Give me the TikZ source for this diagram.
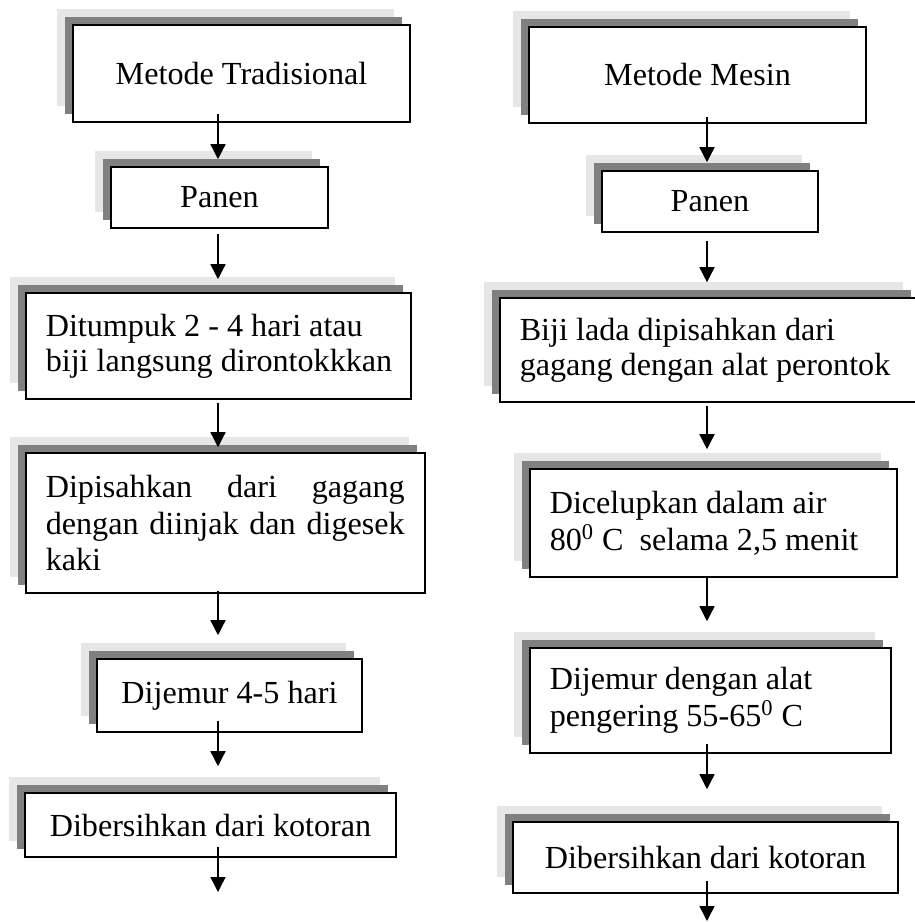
\documentclass[tikz,border=0pt]{standalone}
\usepackage{fontspec}
\setmainfont{Liberation Serif}
\usepackage{tikz}
\usetikzlibrary{arrows.meta,calc,shadows}
\definecolor{figline}{RGB}{0,0,0}
\definecolor{shadedark}{RGB}{128,128,128}
\definecolor{shadelight}{RGB}{230,230,230}
\hyphenpenalty=10000
\tikzset{
  shd/.style     ={general shadow={shadow xshift=-0.32cm, shadow yshift=0.32cm, fill=shadelight},
                   general shadow={shadow xshift=-0.16cm, shadow yshift=0.16cm, fill=shadedark}},
  flowbox/.style ={shd, draw=figline, fill=white, line width=0.9pt, inner sep=0pt,
                   font=\fontsize{18.3}{20}\selectfont},
  flowtxt/.style ={flowbox, anchor=west, inner xsep=0.4cm, align=flush left},
  ptr/.style     ={draw=figline, line width=0.8pt, -{Triangle[length=0.3cm,width=0.3cm]}},
}

\begin{document}
\begin{tikzpicture}[x=0.02cm, y=-0.02cm]
  \useasboundingbox (0,0) rectangle (915,922);
  \coordinate (lx) at (218,0);
  \coordinate (rx) at (707,0);
  \coordinate (lend) at (218,892);
  \coordinate (rend) at (707,921);
  % left column
  \node[flowbox, minimum width=6.74cm, minimum height=1.94cm] (trad) at (241.5,73.5) {Metode Tradisional};
  \node[flowbox, minimum width=4.34cm, minimum height=1.22cm] (panenL) at (219.5,197.5) {Panen};
  \node[flowtxt, text width=6.9cm, minimum height=2.12cm] (tumpuk) at (25,346)
    {\mbox{Ditumpuk 2 - 4 hari atau}\\\mbox{biji langsung dirontokkkan}};
  \node[flowtxt, align=justify, text width=7.18cm, minimum height=2.8cm,
        font=\fontsize{18.3}{21}\selectfont] (pisahL) at (25,523)
    {Dipisahkan dari gagang\linebreak dengan diinjak dan digesek\linebreak kaki};
  \node[flowbox, minimum width=5.3cm, minimum height=1.46cm] (jemurL) at (229.5,695.5) {Dijemur 4-5 hari};
  \node[flowbox, minimum width=7.42cm, minimum height=1.28cm] (bersihL) at (210.5,825) {Dibersihkan dari kotoran};
  % right column
  \node[flowbox, minimum width=6.74cm, minimum height=1.92cm] (mesin) at (697.5,75) {Metode Mesin};
  \node[flowbox, minimum width=4.32cm, minimum height=1.22cm] (panenR) at (710,201.5) {Panen};
  \node[flowtxt, text width=7.58cm, minimum height=2.08cm] (pisahR) at (499,350)
    {\mbox{Biji lada dipisahkan dari}\\\mbox{gagang dengan alat perontok}};
  \node[flowtxt, text width=6.54cm, minimum height=2.16cm,
        font=\fontsize{18.3}{21}\selectfont] (celup) at (529,523)
    {\mbox{Dicelupkan dalam air}\\\mbox{80\textsuperscript{0} C\ \ selama 2,5 menit}};
  \node[flowtxt, text width=6.42cm, minimum height=2.1cm,
        font=\fontsize{18.3}{21}\selectfont] (jemurR) at (529,700.5)
    {\mbox{Dijemur dengan alat}\\\mbox{pengering 55-65\textsuperscript{0} C}};
  \node[flowbox, minimum width=7.7cm, minimum height=1.42cm] (bersihR) at (705.5,857.5) {Dibersihkan dari kotoran};
  % arrows
  \draw[ptr] ($(trad.south -| lx)+(0,-9)$) -- ($(panenL.north -| lx)+(0,-7)$);
  \draw[ptr] ($(panenL.south -| lx)+(0,5)$) -- ($(tumpuk.north -| lx)+(0,-13)$);
  \draw[ptr] ($(tumpuk.south -| lx)+(0,3)$) -- ($(pisahL.north -| lx)+(0,-5)$);
  \draw[ptr] ($(pisahL.south -| lx)+(0,-3)$) -- ($(jemurL.north -| lx)+(0,-23)$);
  \draw[ptr] ($(jemurL.south -| lx)+(0,-12)$) -- ($(bersihL.north -| lx)+(0,-26)$);
  \draw[ptr] ($(bersihL.south -| lx)+(0,-11)$) -- (lend);
  \draw[ptr] ($(mesin.south -| rx)+(0,-7)$) -- ($(panenR.north -| rx)+(0,-8)$);
  \draw[ptr] ($(panenR.south -| rx)+(0,8)$) -- ($(pisahR.north -| rx)+(0,-15)$);
  \draw[ptr] ($(pisahR.south -| rx)+(0,3)$) -- ($(celup.north -| rx)+(0,-19)$);
  \draw[ptr] ($(celup.south -| rx)+(0,-2)$) -- ($(jemurR.north -| rx)+(0,-26)$);
  \draw[ptr] ($(jemurR.south -| rx)+(0,-10)$) -- ($(bersihR.north -| rx)+(0,-32)$);
  \draw[ptr] ($(bersihR.south -| rx)+(0,-13)$) -- (rend);
\end{tikzpicture}
\end{document}
